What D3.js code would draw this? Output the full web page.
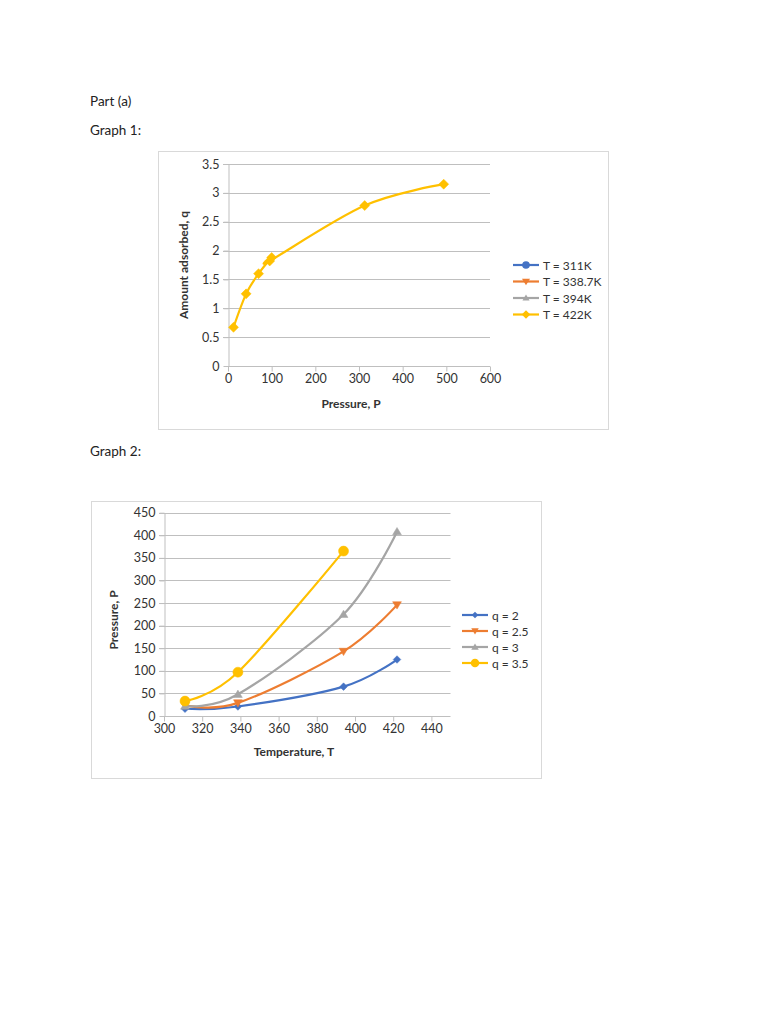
<!DOCTYPE html>
<html><head><meta charset="utf-8">
<script src="https://cdn.jsdelivr.net/npm/d3@7"></script>
<style>body{margin:0;background:#fff;} svg{display:block;font-family:Lato,"Open Sans",sans-serif;}</style>
</head><body>
<svg id="c" width="768" height="1024"></svg>
<script>
// ---- Graph 1 data ----
const g1Series = ["T = 311K","T = 338.7K","T = 394K","T = 422K"];
const g1P_422 = [12.6, 41.5, 70, 100, 95.5, 313, 494];
const g1Q_422 = [0.67, 1.25, 1.60, 1.88, 1.82, 2.78, 3.15];
const g1P_311 = [], g1Q_311 = [];
const g1P_3387 = [], g1Q_3387 = [];
const g1P_394 = [], g1Q_394 = [];
const g1XTicks = [0,100,200,300,400,500,600];
const g1YTicks = [0,0.5,1,1.5,2,2.5,3,3.5];

// ---- Graph 2 data ----
const g2Series = ["q = 2","q = 2.5","q = 3","q = 3.5"];
const g2T = [311, 338.7, 394, 422];
const g2P_q2  = [16, 21, 65, 125];
const g2P_q25 = [24, 29, 143, 246];
const g2P_q3  = [22, 48, 225, 408];
const g2P_q35 = [33, 97, 365];
const g2XTicks = [300,320,340,360,380,400,420,440];
const g2YTicks = [0,50,100,150,200,250,300,350,400,450];

const colors = ["#4472C4","#ED7D31","#A5A5A5","#FFC000"];
const svg = d3.select("#c");

// page text
svg.append("text").attr("x",90).attr("y",106).attr("font-size",13.5).attr("fill","#222").text("Part (a)");
svg.append("text").attr("x",90).attr("y",135).attr("font-size",13.5).attr("fill","#222").text("Graph 1:");
svg.append("text").attr("x",90).attr("y",456).attr("font-size",13.5).attr("fill","#222").text("Graph 2:");

function markerPath(type, r){
  if(type==="diamond") return `M0,${-r}L${r},0L0,${r}L${-r},0Z`;
  if(type==="circle") return d3.symbol().type(d3.symbolCircle).size(Math.PI*r*r)();
  // triangle (up), rotated for tri_down
  return `M0,${-r}L${r*1.05},${r*0.75}L${-r*1.05},${r*0.75}Z`;
}

function chart(opt){
  const g = svg.append("g");
  g.append("rect").attr("x",opt.frame[0]+0.5).attr("y",opt.frame[1]+0.5)
    .attr("width",opt.frame[2]).attr("height",opt.frame[3])
    .attr("fill","#fff").attr("stroke","#D9D9D9");
  const x = d3.scaleLinear().domain(opt.xDomain).range(opt.xRange);
  const y = d3.scaleLinear().domain(opt.yDomain).range(opt.yRange);
  // gridlines
  g.append("g").selectAll("line").data(opt.yTicks.filter(d=>d>0)).join("line")
    .attr("x1",opt.xRange[0]-5).attr("x2",opt.xRange[1])
    .attr("y1",d=>Math.round(y(d))+0.5).attr("y2",d=>Math.round(y(d))+0.5)
    .attr("stroke","#BFBFBF").attr("stroke-width",1);
  // axes
  const xa = g.append("g").attr("transform",`translate(0,${Math.round(opt.yRange[0])+0.5})`)
    .call(d3.axisBottom(x).tickValues(opt.xTicks).tickSize(5).tickSizeOuter(0).tickPadding(3));
  xa.select(".domain").attr("d",`M${opt.xRange[0]},0H${opt.xRange[1]}`);
  const ya = g.append("g").attr("transform",`translate(${Math.round(opt.xRange[0])+0.5},0)`)
    .call(d3.axisLeft(y).tickValues(opt.yTicks).tickSize(5).tickSizeOuter(0).tickPadding(4).tickFormat(d=>String(d)));
  [xa,ya].forEach(a=>{
    a.selectAll(".domain,line").attr("stroke","#BFBFBF");
    a.selectAll("text").attr("font-size",12.5).attr("fill","#333").attr("font-family","Lato,'Open Sans',sans-serif");
  });
  // axis titles
  g.append("text").attr("x",opt.xTitle[0]).attr("y",opt.xTitle[1]).attr("text-anchor","middle")
    .attr("font-size",12).attr("font-weight","bold").attr("fill","#333").text(opt.xLabel);
  g.append("text").attr("transform",`translate(${opt.yTitle[0]},${opt.yTitle[1]}) rotate(-90)`).attr("text-anchor","middle")
    .attr("font-size",12).attr("font-weight","bold").attr("fill","#333").text(opt.yLabel);
  // series
  const line = d3.line().x(d=>x(d[0])).y(d=>y(d[1])).curve(d3.curveCardinal.tension(0));
  opt.series.forEach((s,i)=>{
    const pts = s.xs.map((v,j)=>[v,s.ys[j]]);
    if(pts.length>1) g.append("path").attr("d",line(pts)).attr("fill","none")
      .attr("stroke",colors[i]).attr("stroke-width",2.2);
    g.append("g").selectAll("path").data(pts).join("path")
      .attr("d",markerPath(s.marker,s.r))
      .attr("transform",d=>`translate(${x(d[0])},${y(d[1])})${s.marker==="tri_down"?" rotate(180)":""}`)
      .attr("fill",colors[i]).attr("stroke",colors[i]).attr("stroke-width",0.5);
  });
  // legend
  opt.series.forEach((s,i)=>{
    const ly = opt.legend[1] + i*opt.legendGap;
    const lx = opt.legend[0];
    g.append("line").attr("x1",lx).attr("x2",lx+26).attr("y1",ly).attr("y2",ly)
      .attr("stroke",colors[i]).attr("stroke-width",2.2);
    g.append("path").attr("d",markerPath(s.marker,s.r*0.85))
      .attr("transform",`translate(${lx+13},${ly})${s.marker==="tri_down"?" rotate(180)":""}`)
      .attr("fill",colors[i]);
    g.append("text").attr("x",lx+30).attr("y",ly+4.5).attr("font-size",12).attr("fill","#333").text(s.name);
  });
}

chart({
  frame:[158,151,450,278],
  xDomain:[0,600], xRange:[228,490],
  yDomain:[0,3.5], yRange:[366,164],
  xTicks:g1XTicks, yTicks:g1YTicks,
  xLabel:"Pressure, P", yLabel:"Amount adsorbed, q",
  xTitle:[351,408], yTitle:[188,265],
  legend:[513,265], legendGap:16.5,
  series:[
    {name:g1Series[0], xs:g1P_311,  ys:g1Q_311,  marker:"circle",   r:4.5},
    {name:g1Series[1], xs:g1P_3387, ys:g1Q_3387, marker:"tri_down", r:4.5},
    {name:g1Series[2], xs:g1P_394,  ys:g1Q_394,  marker:"triangle", r:4},
    {name:g1Series[3], xs:g1P_422,  ys:g1Q_422,  marker:"diamond",  r:5}
  ]
});

chart({
  frame:[91,501,450,277],
  xDomain:[300,450], xRange:[164,450.5],
  yDomain:[0,450], yRange:[716,512.7],
  xTicks:g2XTicks, yTicks:g2YTicks,
  xLabel:"Temperature, T", yLabel:"Pressure, P",
  xTitle:[294,756], yTitle:[118,620],
  legend:[462,615], legendGap:16,
  series:[
    {name:g2Series[0], xs:g2T, ys:g2P_q2,  marker:"diamond",  r:3.8},
    {name:g2Series[1], xs:g2T, ys:g2P_q25, marker:"tri_down", r:4.2},
    {name:g2Series[2], xs:g2T, ys:g2P_q3,  marker:"triangle", r:4.2},
    {name:g2Series[3], xs:g2T.slice(0,3), ys:g2P_q35, marker:"circle", r:5}
  ]
});
</script>
</body></html>
